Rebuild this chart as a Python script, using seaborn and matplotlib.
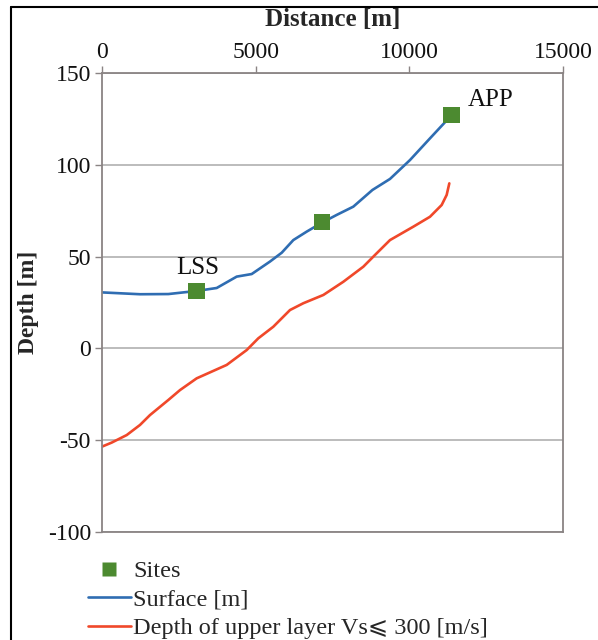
import matplotlib
matplotlib.use("Agg")
import matplotlib.pyplot as plt
from matplotlib.lines import Line2D
import seaborn as sns
import pandas as pd

# ---- data ----
surface_x = [0, 1237, 2158, 3081, 3732, 4383, 4871, 5466, 5847, 6225, 6660, 7169,
             7636, 8177, 8800, 9371, 10022, 10672, 11378]
surface_y = [30.5, 29.5, 29.6, 31.3, 32.9, 39.1, 40.5, 47.3, 52.1, 59.0, 63.6, 68.6,
             72.7, 77.2, 86.3, 92.3, 102.6, 114.4, 127.1]

vs_x = [0, 316, 804, 1236, 1562, 2158, 2538, 3081, 4057, 4708, 5086, 5574, 6117,
        6551, 7202, 7853, 8503, 8883, 9371, 10130, 10672, 11052, 11215, 11301]
vs_y = [-53.5, -51.3, -47.2, -41.7, -36.3, -28.1, -22.7, -16.3, -9.0, -0.9, 5.5,
        11.8, 20.9, 24.6, 29.1, 36.3, 44.5, 50.9, 59.0, 66.3, 71.7, 78.1, 83.6, 89.9]

site_x = [3081, 7160, 11378]
site_y = [31.3, 68.8, 127.1]
site_names = ["LSS", "", "APP"]

xticks = [0, 5000, 10000, 15000]
yticks = [-100, -50, 0, 50, 100, 150]

sns.set_theme(style="white")
plt.rcParams["font.family"] = ["Liberation Serif", "DejaVu Serif", "DejaVu Sans"]
plt.rcParams["axes.unicode_minus"] = False

fig = plt.figure(figsize=(5.98, 6.4), dpi=100)
ax = fig.add_axes([102 / 598, 1 - 532 / 640, (563 - 102) / 598, (532 - 73) / 640])

surf_df = pd.DataFrame({"x": surface_x, "y": surface_y})
vs_df = pd.DataFrame({"x": vs_x, "y": vs_y})
site_df = pd.DataFrame({"x": site_x, "y": site_y})

blue = "#2f6db2"
red = "#f0482a"
green = "#4c8a30"

sns.lineplot(data=surf_df, x="x", y="y", ax=ax, color=blue, lw=1.9,
             sort=False, estimator=None)
sns.lineplot(data=vs_df, x="x", y="y", ax=ax, color=red, lw=1.9,
             sort=False, estimator=None)
sns.scatterplot(data=site_df, x="x", y="y", ax=ax, marker="s", s=145,
                color=green, edgecolor="none", zorder=5)

ax.text(3124, 43.8, site_names[0], fontsize=18,
        ha="center", va="center", color="#111111")
ax.text(11909, 135.3, site_names[2], fontsize=18,
        ha="left", va="center", color="#111111")

ax.set_xlim(0, 15000)
ax.set_ylim(-100, 150)
ax.set_xticks(xticks)
ax.set_yticks(yticks)
ax.xaxis.tick_top()
ax.xaxis.set_label_position("top")
ax.set_xlabel("Distance [m]", fontsize=18, fontweight="bold")
ax.set_ylabel("Depth [m]", fontsize=17, fontweight="bold")
ax.xaxis.set_label_coords(0.5, 1 + (73 - 26) / 459)
ax.yaxis.set_label_coords((39 - 102) / 461, 0.5)

spine_col = "#8a8484"
for s in ax.spines.values():
    s.set_color(spine_col)
    s.set_linewidth(1.3)
ax.tick_params(axis="both", which="both", direction="out", length=5, width=1,
               color=spine_col, labelsize=17, labelcolor="#111111")
ax.tick_params(axis="x", pad=2, top=True, bottom=False)
ax.tick_params(axis="y", pad=3, left=True)

ax.yaxis.grid(True, color="#a9a9a9", lw=1.1)
ax.xaxis.grid(False)
ax.set_axisbelow(True)

handles = [
    Line2D([], [], marker="s", color="none", markerfacecolor=green,
           markeredgecolor="none", markersize=10, label="Sites"),
    Line2D([], [], color=blue, lw=1.9, label="Surface [m]"),
    Line2D([], [], color=red, lw=1.9, label="Depth of upper layer Vs\u2a7d 300 [m/s]"),
]
fig.legend(handles=handles, loc="upper left", bbox_to_anchor=(88 / 598, 1 - 560 / 640),
           frameon=False, fontsize=17.5, handlelength=1.75, handletextpad=0.12,
           labelspacing=0.27, borderpad=0, borderaxespad=0)

# figure border (left and top)
fig.add_artist(Line2D([11 / 598, 11 / 598], [0, 1 - 7 / 640], color="black", lw=1.5,
                      transform=fig.transFigure))
fig.add_artist(Line2D([11 / 598, 1], [1 - 7 / 640, 1 - 7 / 640], color="black", lw=1.5,
                      transform=fig.transFigure))

fig.savefig("out.png", dpi=100)
